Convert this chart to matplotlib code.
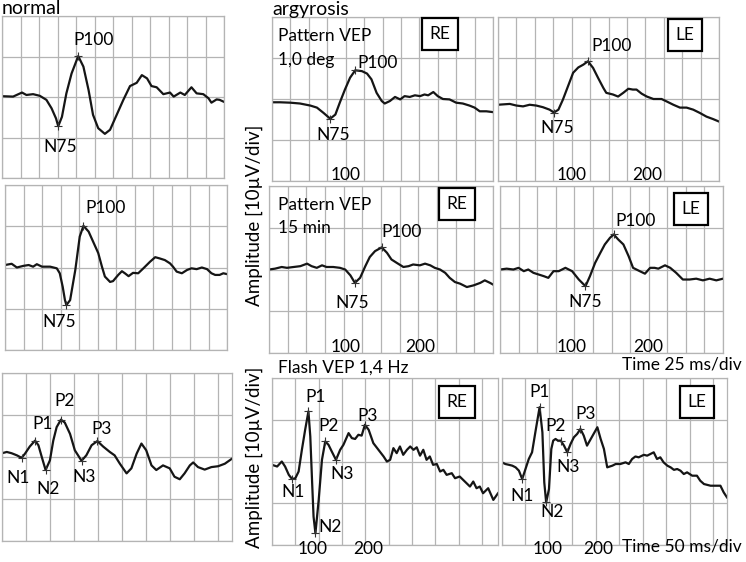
import matplotlib
matplotlib.use("Agg")
import matplotlib.pyplot as plt

plt.rcParams['font.family'] = ['Lato', 'DejaVu Sans']

FIG_W, FIG_H = 746, 562

# ---- waveform data: time [ms], amplitude [uV] ----
# normal, pattern VEP (top)
norm_pat1_t = [0, 15, 27, 33, 42, 51, 60, 67, 73, 76, 81, 87, 94, 103, 110, 117, 123, 130, 139,
               146, 155, 164, 173, 182, 189, 196, 202, 209, 218, 227, 232, 241, 247, 256, 263,
               272, 279, 283, 290, 294, 300]
norm_pat1_v = [0.2, 0.1, 1.1, 0.5, 0.7, 0.3, -0.7, -2.8, -5.3, -7.2, -4.9, 0.9, 5.8, 10.1, 7.5,
               1.7, -4.4, -7.7, -9.1, -8.1, -4.4, -0.7, 2.7, 3.5, 5.4, 4.6, 2.7, 2.4, 0.7, 1.1,
               0.1, 1.1, 0.5, 2.4, 0.9, 0.7, -0.3, -1.4, -0.6, -0.7, -1.2]

# normal, pattern VEP (middle)
norm_pat2_t = [0, 9, 16, 25, 32, 38, 43, 50, 61, 70, 74, 78, 81, 83, 88, 95, 101, 106, 113, 119,
               126, 131, 135, 142, 146, 153, 158, 162, 167, 173, 180, 187, 196, 203, 209, 216,
               223, 227, 232, 239, 246, 252, 259, 266, 273, 279, 284, 290, 295, 300]
norm_pat2_v = [0.6, 0.9, 0.0, 0.4, 0.6, 0.2, 0.8, 0.2, 0.2, -0.2, -1.4, -4.7, -7.9, -9.1, -7.9,
               -0.6, 7.5, 10.1, 8.7, 6.3, 3.5, 0.2, -2.2, -3.5, -3.3, -1.8, -0.9, -1.4, -2.1,
               -1.3, -1.4, -0.2, 1.4, 2.5, 2.2, 1.8, 1.0, 0.2, -1.0, -1.4, -0.6, -0.2, -0.4,
               0.0, -0.4, -1.4, -1.8, -1.8, -1.4, -1.6]

# normal, flash VEP
norm_fl_t = [0, 10, 20, 31, 41, 48, 58, 69, 76, 83, 91, 100, 107, 114, 123, 131, 142, 152, 166,
             176, 187, 199, 211, 225, 235, 246, 260, 270, 281, 291, 301, 312, 322, 336, 350,
             360, 371, 381, 392, 399, 409, 423, 437, 451, 465, 480]
norm_fl_v = [0.9, 1.2, 0.9, 0.4, -0.2, 0.8, 2.5, 3.9, 2.8, 0.0, -3.1, -0.8, 3.9, 7.1, 8.9, 8.2,
             5.5, 1.6, -0.9, 0.4, 2.8, 3.8, 2.5, 1.2, 0.4, -1.6, -3.9, -2.7, 0.8, 3.2, 1.6,
             -2.0, -3.1, -2.0, -2.7, -4.7, -5.3, -3.9, -2.0, -1.3, -2.4, -3.0, -2.4, -2.2,
             -1.6, -0.4]

# argyrosis RE, pattern 1,0 deg
re_pat1_t = [0, 11, 25, 38, 52, 61, 70, 79, 86, 92, 99, 106, 113, 122, 129, 135, 142, 149, 153,
             160, 167, 174, 180, 187, 194, 201, 207, 212, 219, 225, 232, 241, 250, 259, 268,
             275, 282, 291, 300]
re_pat1_v = [-0.8, -0.8, -0.9, -1.1, -1.6, -2.1, -3.4, -4.8, -3.8, -0.9, 2.3, 5.2, 7.0, 6.8,
             6.2, 4.8, 1.5, -0.5, -1.1, -0.5, 0.5, -0.1, 0.7, 0.5, 0.9, 0.7, 1.1, 0.9, 1.7,
             0.7, 0.0, -0.1, -0.9, -1.1, -1.6, -2.1, -3.0, -3.0, -3.2]

# argyrosis LE, pattern 1,0 deg
le_pat1_t = [0, 16, 25, 34, 43, 52, 61, 70, 76, 82, 88, 95, 102, 109, 116, 122, 129, 136, 143,
             147, 156, 163, 170, 177, 183, 188, 195, 202, 211, 222, 229, 238, 247, 256, 265,
             274, 283, 292, 300]
le_pat1_v = [-1.4, -1.2, -1.6, -1.8, -1.4, -1.6, -2.0, -2.6, -3.3, -2.6, -0.2, 3.1, 6.4, 7.7,
             8.4, 9.2, 7.6, 5.1, 2.7, 1.5, 1.1, 0.6, 1.5, 2.5, 2.3, 2.3, 1.3, 0.6, 0.0, 0.0,
             -0.6, -1.4, -2.1, -2.1, -2.6, -3.4, -4.3, -4.9, -5.5]

# argyrosis RE, pattern 15 min
re_pat2_t = [0, 8, 17, 24, 33, 42, 51, 57, 64, 71, 77, 86, 95, 102, 109, 115, 122, 129, 135,
             142, 151, 158, 164, 171, 180, 187, 193, 202, 209, 216, 222, 229, 236, 242, 249,
             256, 265, 274, 283, 289, 296, 300]
re_pat2_v = [0.0, 0.2, 0.6, 0.4, 0.6, 0.8, 1.4, 0.8, 0.4, 1.0, 0.6, 0.6, 0.4, 0.0, -1.4, -3.2,
             -2.0, 0.8, 3.0, 4.4, 5.3, 4.0, 2.4, 1.6, 0.6, 0.8, 1.2, 1.0, 1.4, 1.0, 0.4, 0.0,
             -0.8, -2.0, -3.0, -3.4, -4.2, -3.8, -3.2, -2.6, -3.2, -3.6]

# argyrosis LE, pattern 15 min
le_pat2_t = [0, 9, 18, 25, 32, 38, 45, 52, 59, 65, 72, 79, 88, 97, 106, 115, 121, 128, 135,
             141, 148, 153, 159, 166, 173, 179, 188, 195, 202, 208, 213, 222, 229, 237, 246,
             255, 264, 273, 282, 291, 300]
le_pat2_v = [0.0, 0.2, 0.0, 0.4, -0.4, 0.0, -0.8, -1.2, -1.6, -2.0, -0.4, -0.4, 0.4, -0.4,
             -2.4, -4.0, -1.6, 1.6, 4.0, 6.0, 7.6, 8.4, 7.2, 6.0, 3.2, 0.4, -0.4, -1.0, 0.4,
             0.4, 0.2, 1.0, 0.4, -0.8, -2.4, -2.4, -2.2, -2.6, -2.2, -2.6, -2.2]

# argyrosis RE, flash 1,4 Hz
re_fl_t = [0, 11, 21, 28, 36, 43, 50, 57, 64, 71, 78, 82, 86, 89, 93, 100, 107, 114, 121, 128,
           137, 146, 153, 164, 171, 178, 185, 192, 199, 207, 217, 228, 239, 246, 253, 260, 267,
           274, 281, 289, 296, 303, 310, 317, 324, 331, 338, 345, 353, 360, 367, 374, 385, 392,
           402, 413, 424, 431, 438, 445, 452, 463, 474, 484]
re_fl_v = [-0.8, -1.2, 0.0, -1.2, -3.2, -4.2, -4.0, -2.4, 2.8, 7.6, 12.0, 6.0, -5.2, -13.2,
           -17.2, -9.2, 0.4, 4.8, 4.0, 2.4, 0.4, 2.8, 4.0, 6.8, 5.6, 5.4, 6.4, 6.2, 8.8, 7.6,
           4.4, 2.8, 1.2, 0.0, 0.4, 3.2, 2.0, 3.6, 1.6, 2.8, 3.6, 2.8, 3.4, 1.4, 2.8, 0.4,
           1.2, -0.8, -0.6, -2.4, -2.0, -3.2, -2.8, -4.0, -3.6, -4.8, -6.0, -4.8, -6.4, -6.0,
           -7.6, -6.4, -9.2, -7.6]

# argyrosis LE, flash 1,4 Hz
le_fl_t = [0, 7, 15, 22, 29, 36, 43, 50, 57, 64, 71, 80, 86, 90, 94, 100, 105, 109, 114, 119,
           125, 132, 139, 146, 153, 160, 167, 174, 181, 192, 203, 210, 217, 224, 235, 242, 252,
           263, 270, 277, 284, 291, 302, 309, 316, 323, 330, 337, 344, 352, 359, 366, 373, 380,
           387, 394, 405, 415, 422, 430, 437, 444, 454, 465, 472, 479]
le_fl_v = [-0.2, -0.6, -0.8, -1.0, -1.4, -2.2, -4.2, -1.8, 0.6, 2.2, 7.0, 13.0, 7.0, -5.0,
           -9.8, -6.6, 3.0, 5.0, 5.4, 5.0, 5.0, 3.8, 2.2, 4.2, 5.8, 6.6, 7.8, 6.2, 3.8, 6.0,
           8.2, 5.4, 3.0, -1.4, -1.0, -0.6, -0.6, -0.2, -0.6, 0.6, 1.2, 1.0, 1.6, 1.4, 1.8,
           2.2, 0.6, 1.0, -0.2, -1.0, -1.4, -2.0, -1.8, -2.2, -3.0, -2.6, -3.4, -3.4, -4.6,
           -5.4, -5.6, -5.8, -5.8, -5.8, -7.4, -8.6]

# peak names and their index in the traces above
pat_peaks = ['N75', 'P100']
fl_peaks = ['N1', 'P1', 'N2', 'P2', 'N3', 'P3']

# ---- layout (pixels: left, top, width, height) ----
panels = [
    dict(rect=(2, 16, 222, 162), t=norm_pat1_t, v=norm_pat1_v, xmax=300, step=25,
         peaks=dict(zip(pat_peaks, [9, 13])), off=[(2, -21), (15, 16)]),
    dict(rect=(5, 185, 222, 165), t=norm_pat2_t, v=norm_pat2_v, xmax=300, step=25,
         peaks=dict(zip(pat_peaks, [13, 17])), off=[(-7, -17), (22, 18)]),
    dict(rect=(2, 373, 230, 168), t=norm_fl_t, v=norm_fl_v, xmax=480, step=50,
         peaks=dict(zip(fl_peaks, [4, 7, 10, 14, 18, 21])),
         off=[(-4, -20), (7, 17), (2, -19), (4, 19), (3, -16), (4, 12)]),
    dict(rect=(272, 17, 221, 164), t=re_pat1_t, v=re_pat1_v, xmax=300, step=25,
         peaks=dict(zip(pat_peaks, [7, 12])), off=[(3, -16), (22, 7)],
         eye='RE', eye_xy=(440, 34), ticks=[(100, '100')]),
    dict(rect=(498, 17, 221, 164), t=le_pat1_t, v=le_pat1_v, xmax=300, step=25,
         peaks=dict(zip(pat_peaks, [8, 15])), off=[(3, -15), (24, 15)],
         eye='LE', eye_xy=(685, 35), ticks=[(100, '100'), (203, '200')]),
    dict(rect=(269, 186, 224, 167), t=re_pat2_t, v=re_pat2_v, xmax=300, step=25,
         peaks=dict(zip(pat_peaks, [15, 20])), off=[(-3, -20), (20, 15)],
         eye='RE', eye_xy=(457, 204), ticks=[(102, '100'), (202, '200')]),
    dict(rect=(500, 186, 223, 167), t=le_pat2_t, v=le_pat2_v, xmax=300, step=25,
         peaks=dict(zip(pat_peaks, [15, 21])), off=[(0, -16), (22, 13)],
         eye='LE', eye_xy=(691, 209), ticks=[(97, '100'), (199, '200')]),
    dict(rect=(272, 378, 226, 167), t=re_fl_t, v=re_fl_v, xmax=484, step=50,
         peaks=dict(zip(fl_peaks, [5, 10, 14, 17, 20, 28])),
         off=[(1, -13), (7, 14), (15, 6), (3, 15), (6, -14), (3, 9)],
         eye='RE', eye_xy=(457, 402), ticks=[(86, '100'), (206, '200')]),
    dict(rect=(502, 378, 225, 167), t=le_fl_t, v=le_fl_v, xmax=479, step=50,
         peaks=dict(zip(fl_peaks, [6, 11, 14, 20, 22, 26])),
         off=[(0, -17), (0, 15), (6, -10), (-5, 15), (1, -15), (5, 15)],
         eye='LE', eye_xy=(697, 402), ticks=[(98, '100'), (205, '200')]),
]

GRID = '#b4b4b4'
LABEL_FS = 12.5

fig = plt.figure(figsize=(FIG_W / 100, FIG_H / 100), dpi=100)


def px_text(x, y, s, **kw):
    fig.text(x / FIG_W, 1 - y / FIG_H, s, **kw)


for p in panels:
    l, t, w, h = p['rect']
    ax = fig.add_axes([l / FIG_W, 1 - (t + h) / FIG_H, w / FIG_W, h / FIG_H])
    ax.set_xlim(0, p['xmax'])
    ax.set_ylim(-20, 20)
    ax.set_xticks(list(range(0, p['xmax'] + 1, p['step'])))
    ax.set_yticks([-20, -10, 0, 10, 20])
    ax.tick_params(length=0, labelbottom=False, labelleft=False)
    ax.grid(True, color=GRID, lw=0.9)
    for sp in ax.spines.values():
        sp.set_color(GRID)
        sp.set_linewidth(0.9)
    ax.plot(p['t'], p['v'], color='#151515', lw=1.6, solid_joinstyle='round')

    for (name, idx), (dx, dy) in zip(p['peaks'].items(), p['off']):
        x, y = p['t'][idx], p['v'][idx]
        ax.plot(x, y, marker='+', color='#333333', ms=6, mew=0.8)
        ax.annotate(name, (x, y), xytext=(dx, dy), textcoords='offset pixels',
                    ha='center', va='center', fontsize=LABEL_FS)

    for tx, s in p.get('ticks', []):
        ax.text(tx, -18.5 if t < 370 else -21.0, s, ha='center', va='center',
                fontsize=LABEL_FS, clip_on=False)

    if 'eye' in p:
        px_text(*p['eye_xy'], p['eye'], ha='center', va='center', fontsize=LABEL_FS,
                bbox=dict(boxstyle='square,pad=0.45', fc='white', ec='black', lw=1.6))

# headings and annotations
px_text(2, 9, 'normal', ha='left', va='center', fontsize=14)
px_text(272, 9, 'argyrosis', ha='left', va='center', fontsize=14)
px_text(278, 36, 'Pattern VEP', ha='left', va='center', fontsize=LABEL_FS)
px_text(278, 60, '1,0 deg', ha='left', va='center', fontsize=LABEL_FS)
px_text(278, 205, 'Pattern VEP', ha='left', va='center', fontsize=LABEL_FS)
px_text(278, 228, '15 min', ha='left', va='center', fontsize=LABEL_FS)
px_text(278, 368, 'Flash VEP 1,4 Hz', ha='left', va='center', fontsize=LABEL_FS)
px_text(742, 364, 'Time 25 ms/div', ha='right', va='center', fontsize=LABEL_FS)
px_text(742, 547, 'Time 50 ms/div', ha='right', va='center', fontsize=LABEL_FS)
px_text(254, 215, 'Amplitude [10\u00b5V/div]', ha='center', va='center',
        rotation=90, fontsize=13.5)
px_text(254, 457, 'Amplitude [10\u00b5V/div]', ha='center', va='center',
        rotation=90, fontsize=13.5)

fig.savefig('out.png', dpi=100)
